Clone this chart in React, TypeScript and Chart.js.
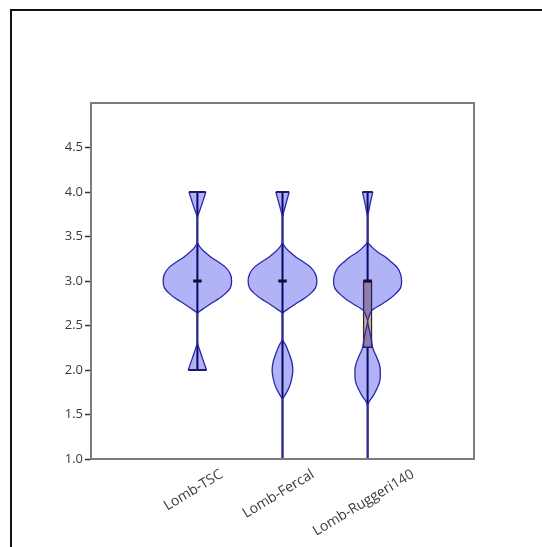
import { useEffect, useRef } from 'react';
import { Chart, registerables } from 'chart.js';

Chart.register(...registerables);

// ---------------- data ----------------
const categories = ['Lomb-TSC', 'Lomb-Fercal', 'Lomb-Ruggeri140'];
const positions = [1, 2, 3];
const yTicks = [1.0, 1.5, 2.0, 2.5, 3.0, 3.5, 4.0, 4.5];

// violin density profiles: value levels and half-widths (x units)
const tscLevels = [2.0, 2.1, 2.2, 2.32, 2.45, 2.63, 2.69, 2.745, 2.8, 2.858, 2.92, 3.0, 3.08, 3.156, 3.21, 3.27, 3.32, 3.38, 3.44, 3.56, 3.7, 3.8, 3.9, 4.0];
const tscHalfWidths = [0.108, 0.071, 0.036, 0, 0, 0, 0.073, 0.157, 0.251, 0.329, 0.386, 0.402, 0.386, 0.329, 0.251, 0.157, 0.094, 0.031, 0, 0, 0, 0.031, 0.066, 0.099];

const fercalLevels = [1.0, 1.4, 1.66, 1.73, 1.81, 1.91, 2.0, 2.09, 2.18, 2.28, 2.35, 2.5, 2.63, 2.69, 2.745, 2.8, 2.858, 2.92, 3.0, 3.08, 3.156, 3.21, 3.27, 3.32, 3.38, 3.44, 3.56, 3.7, 3.8, 3.9, 4.0];
const fercalHalfWidths = [0, 0, 0, 0.037, 0.08, 0.11, 0.122, 0.11, 0.08, 0.037, 0, 0, 0, 0.073, 0.157, 0.251, 0.329, 0.386, 0.404, 0.386, 0.329, 0.251, 0.157, 0.094, 0.031, 0, 0, 0, 0.021, 0.05, 0.078];

const ruggeriLevels = [1.0, 1.3, 1.59, 1.65, 1.7, 1.77, 1.85, 1.93, 2.0, 2.07, 2.15, 2.24, 2.35, 2.45, 2.55, 2.6, 2.67, 2.745, 2.8, 2.858, 2.92, 3.0, 3.08, 3.156, 3.21, 3.27, 3.32, 3.38, 3.45, 3.58, 3.7, 3.8, 3.9, 4.0];
const ruggeriHalfWidths = [0, 0, 0, 0.021, 0.06, 0.099, 0.136, 0.149, 0.149, 0.136, 0.104, 0.063, 0.042, 0.021, 0, 0.016, 0.052, 0.174, 0.261, 0.331, 0.386, 0.4, 0.386, 0.345, 0.282, 0.209, 0.125, 0.052, 0, 0, 0, 0.016, 0.037, 0.061];

const mins = [2.0, 1.0, 1.0];
const maxs = [4.0, 4.0, 4.0];
const medians = [3.0, 3.0, 3.0];
const q1s = [3.0, 3.0, 2.25];
const q3s = [3.0, 3.0, 3.0];

// ---------------- styles ----------------
const FONT = 'Open Sans';
const VIOLIN_FILL = 'rgba(0, 0, 230, 0.3)';
const VIOLIN_EDGE = '#2b2ba6';
const CAP_COLOR = '#1c1c66';
const WHISKER_COLOR = '#0c0c34';
const MEDIAN_COLOR = '#0e0e30';
const MEDIAN_HALF = 0.05;
const BOX_FILL = '#d2b48c';
const BOX_EDGE = '#2e2e2e';
const LABEL_ANGLE = 31;

const framePlugin = {
  id: 'frame',
  beforeDraw(chart: any) {
    const { ctx, width, height } = chart;
    ctx.save();
    ctx.fillStyle = '#ffffff';
    ctx.fillRect(0, 0, width, height);
    ctx.strokeStyle = '#111111';
    ctx.lineWidth = 2;
    ctx.beginPath();
    ctx.moveTo(11, height);
    ctx.lineTo(11, 10);
    ctx.lineTo(width, 10);
    ctx.stroke();
    ctx.restore();
  },
  afterDraw(chart: any) {
    const { ctx, chartArea } = chart;
    const { left, top, right, bottom } = chartArea;
    ctx.save();
    ctx.strokeStyle = '#7c7c7c';
    ctx.lineWidth = 2;
    ctx.strokeRect(left, top, right - left, bottom - top);
    // rotated category labels
    const xs = chart.scales.x;
    ctx.font = `14px "${FONT}"`;
    ctx.fillStyle = '#3a3a3a';
    ctx.textAlign = 'center';
    ctx.textBaseline = 'middle';
    const a = (LABEL_ANGLE * Math.PI) / 180;
    categories.forEach((label, i) => {
      const w = ctx.measureText(label).width;
      const h = 10;
      const cx = xs.getPixelForValue(positions[i]) - 4;
      const cy = bottom + 10 + (w * Math.sin(a) + h * Math.cos(a)) / 2;
      ctx.save();
      ctx.translate(cx, cy);
      ctx.rotate(-a);
      ctx.fillText(label, 0, 0);
      ctx.restore();
    });
    ctx.restore();
  },
};

export default function App() {
  const ref = useRef<HTMLCanvasElement>(null);

  useEffect(() => {
    document.body.style.margin = '0';
    const canvas = ref.current;
    if (!canvas) return;

    const profiles = [
      { levels: tscLevels, half: tscHalfWidths },
      { levels: fercalLevels, half: fercalHalfWidths },
      { levels: ruggeriLevels, half: ruggeriHalfWidths },
    ];

    const datasets: any[] = [];
    const lineBase = {
      type: 'line',
      pointRadius: 0,
      pointHoverRadius: 0,
      tension: 0,
    };

    profiles.forEach((p, i) => {
      const c = positions[i];
      // left side (filled to right side)
      datasets.push({
        ...lineBase,
        indexAxis: 'y',
        cubicInterpolationMode: 'monotone',
        data: p.levels.map((y, k) => ({ x: c - p.half[k], y })),
        borderColor: VIOLIN_EDGE,
        borderWidth: 1.3,
        backgroundColor: VIOLIN_FILL,
        fill: '+1',
        order: 3,
      });
      // right side
      datasets.push({
        ...lineBase,
        indexAxis: 'y',
        cubicInterpolationMode: 'monotone',
        data: p.levels.map((y, k) => ({ x: c + p.half[k], y })),
        borderColor: VIOLIN_EDGE,
        borderWidth: 1.3,
        fill: false,
        order: 3,
      });
      // caps at both ends of the profile
      const n = p.levels.length;
      [0, n - 1].forEach((k) => {
        if (p.half[k] > 0) {
          datasets.push({
            ...lineBase,
            indexAxis: 'x',
            data: [
              { x: c - p.half[k], y: p.levels[k] },
              { x: c + p.half[k], y: p.levels[k] },
            ],
            borderColor: CAP_COLOR,
            borderWidth: 2,
            fill: false,
            order: 2,
          });
        }
      });
      // whisker (min..max)
      datasets.push({
        ...lineBase,
        indexAxis: 'y',
        data: [
          { x: c, y: mins[i] },
          { x: c, y: maxs[i] },
        ],
        borderColor: WHISKER_COLOR,
        borderWidth: 2,
        fill: false,
        order: 7,
      });
      // median
      datasets.push({
        ...lineBase,
        indexAxis: 'x',
        data: [
          { x: c - MEDIAN_HALF, y: medians[i] },
          { x: c + MEDIAN_HALF, y: medians[i] },
        ],
        borderColor: MEDIAN_COLOR,
        borderWidth: 3,
        fill: false,
        order: 1,
      });
    });

    // interquartile boxes
    datasets.push({
      type: 'bar',
      indexAxis: 'x',
      data: positions.map((x, i) => ({ x, y: [q1s[i], q3s[i]] })),
      backgroundColor: BOX_FILL,
      borderColor: BOX_EDGE,
      borderWidth: 1.5,
      borderSkipped: false,
      barThickness: 9,
      order: 6,
    });

    const chart = new Chart(canvas, {
      type: 'line',
      data: { datasets },
      options: {
        animation: false,
        responsive: false,
        devicePixelRatio: 1,
        events: [],
        layout: { padding: { left: 0, right: 68, top: 103, bottom: 88 } },
        plugins: {
          legend: { display: false },
          tooltip: { enabled: false },
          filler: { propagate: false },
        },
        scales: {
          x: { type: 'linear', min: 0, max: 4, display: false },
          y: {
            type: 'linear',
            min: 1,
            max: 5,
            afterFit: (s: any) => {
              s.width = 91;
            },
            afterBuildTicks: (s: any) => {
              s.ticks = yTicks.map((v) => ({ value: v }));
            },
            grid: {
              display: true,
              drawOnChartArea: false,
              drawTicks: true,
              tickLength: 6,
              tickColor: '#333333',
              tickWidth: 1.5,
            },
            border: { display: false },
            ticks: {
              color: '#3a3a3a',
              font: { family: FONT, size: 13 },
              padding: 2,
              callback: (v: any) => Number(v).toFixed(1),
            },
          },
        },
      } as any,
      plugins: [framePlugin],
    } as any);

    return () => chart.destroy();
  }, []);

  return (
    <div style={{ position: 'fixed', left: 0, top: 0, width: 542, height: 547, background: '#fff' }}>
      <canvas ref={ref} width={542} height={547} style={{ display: 'block' }} />
    </div>
  );
}
